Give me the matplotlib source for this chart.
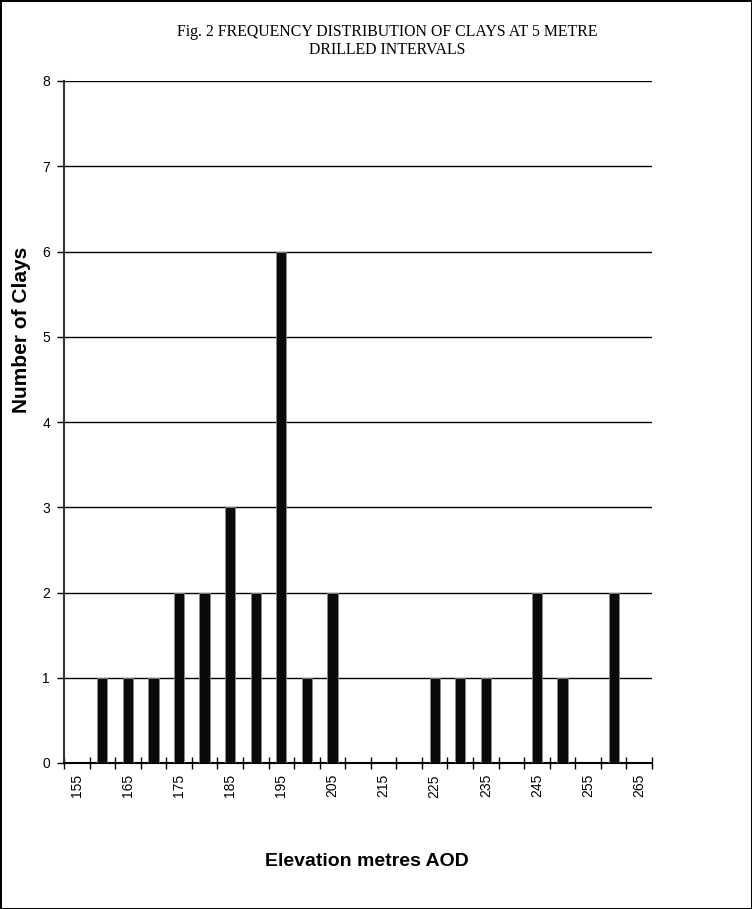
import matplotlib.pyplot as plt
import numpy as np

elevations = [155, 160, 165, 170, 175, 180, 185, 190, 195, 200, 205, 210,
              215, 220, 225, 230, 235, 240, 245, 250, 255, 260, 265]
clay_counts = [0, 1, 1, 1, 2, 2, 3, 2, 6, 1, 2, 0,
               0, 0, 1, 1, 1, 0, 2, 1, 0, 2, 0]
label_every = 2

fig = plt.figure(figsize=(7.52, 9.09), dpi=100)
fig.patch.set_edgecolor('black')
fig.patch.set_linewidth(2)
ax = fig.add_axes([64 / 752, 1 - 763 / 909, 588 / 752, 682 / 909])

pos = np.arange(len(elevations))
ax.bar(pos, clay_counts, width=0.4, color='#0a0a0a', edgecolor='#888888',
       linewidth=0.6, zorder=3)

ax.set_ylim(0, 8)
ax.set_xlim(-0.5, len(elevations) - 0.5)
ax.set_yticks(range(9))
ax.yaxis.grid(True, color='black', linewidth=1, zorder=0)
ax.set_axisbelow(True)

# labelled ticks every 10 m, tick marks at category boundaries
ax.set_xticks(pos[::label_every])
ax.set_xticklabels([str(e) for e in elevations[::label_every]], rotation=90,
                   fontsize=10, family='Liberation Sans')
ax.tick_params(axis='x', which='major', length=0, pad=8)
ax.set_xticks(np.arange(-0.5, len(elevations), 1), minor=True)
ax.tick_params(axis='x', which='minor', direction='inout', length=8, width=1)
ax.tick_params(axis='y', direction='out', length=5, width=1, labelsize=10, pad=5)
for lab in ax.get_yticklabels():
    lab.set_family('Liberation Sans')

for s in ['top', 'right']:
    ax.spines[s].set_visible(False)
ax.spines['left'].set_color('#333333')
ax.spines['left'].set_linewidth(1.5)
ax.spines['bottom'].set_linewidth(1.5)

fig.text(22 / 752, 1 - 330 / 909, 'Number of Clays', fontsize=15,
         fontweight='bold', family='Liberation Sans', rotation=90,
         ha='center', va='center')
fig.text(367 / 752, 1 - 862 / 909, 'Elevation metres AOD', fontsize=14,
         fontweight='bold', family='Liberation Sans', ha='center', va='center')
fig.text(387 / 752, 1 - 41 / 909,
         'Fig. 2 FREQUENCY DISTRIBUTION OF CLAYS AT 5 METRE\nDRILLED INTERVALS',
         fontsize=11.4, family='Liberation Serif', ha='center', va='center',
         linespacing=1.2)

plt.savefig('out.png', dpi=100)
